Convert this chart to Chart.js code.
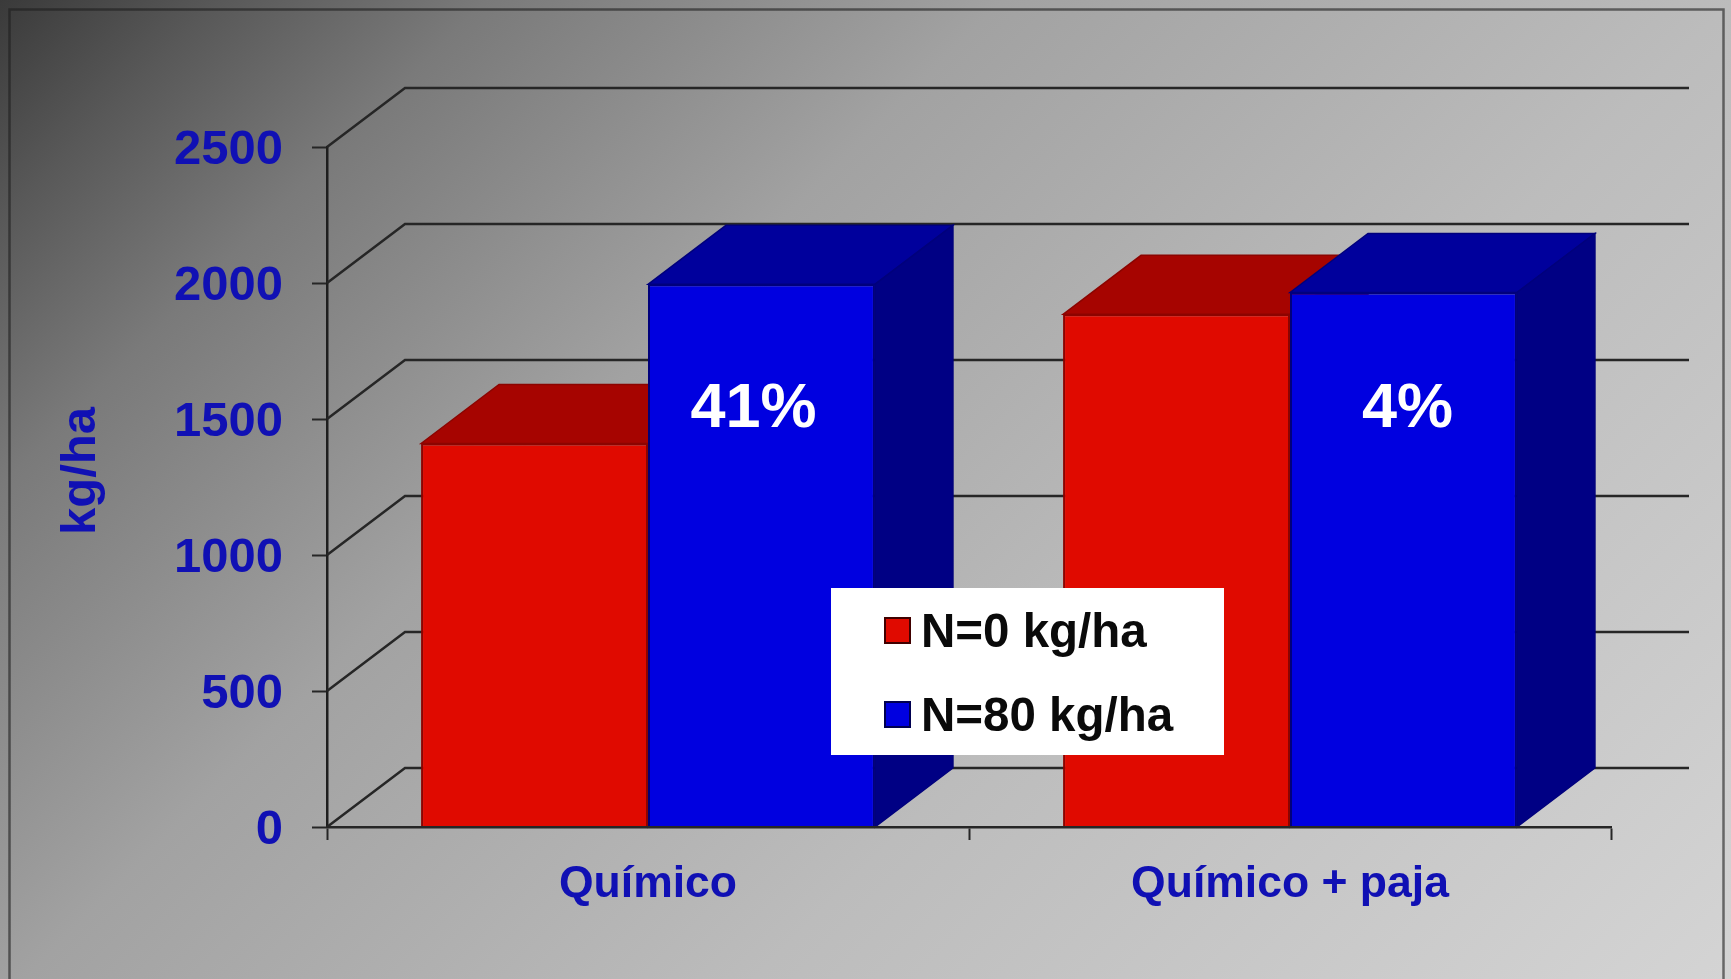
<!DOCTYPE html>
<html lang="es">
<head>
<meta charset="utf-8">
<title>kg/ha</title>
<style>
    html, body { margin: 0; padding: 0; background: #999; overflow: hidden; }
    canvas { display: block; filter: blur(0.5px); }
</style>
</head>
<body>
<canvas id="grafico" width="1731" height="979"></canvas>
<script src="https://cdn.jsdelivr.net/npm/chart.js@4/dist/chart.umd.min.js"></script>
<script>
// --- DATOS ---
const categorias = ['Químico', 'Químico + paja'];
const serieN0 = [1410, 1885];
const serieN80 = [1995, 1965];
const nombresSeries = ['N=0 kg/ha', 'N=80 kg/ha'];
const porcentajes = ['41%', '4%'];
const tituloEjeY = 'kg/ha';

// --- ESTILOS ---
const FUENTE = '"Liberation Sans", Arial, sans-serif';
const AZUL_TEXTO = '#1010b4';
const PROF_X = 78, PROF_Y = 59;
const caras = [
    { frente: '#e00a00', borde: '#8c0400', arriba: '#a60400', lado: '#8a0000' },
    { frente: '#0000e0', borde: '#00007c', arriba: '#00009c', lado: '#000084' }
];

// --- PLUGIN 3D: fondo, pared trasera, caras de las barras, leyenda ---
const plugin3d = {
    id: 'plugin3d',
    beforeDraw(chart) {
        const { ctx, width, height } = chart;
        const g = ctx.createLinearGradient(0, 0, 1355, 1355);
        g.addColorStop(0, '#3a3a3a');
        g.addColorStop(0.08, '#585858');
        g.addColorStop(0.18, '#7a7a7a');
        g.addColorStop(0.37, '#a2a2a2');
        g.addColorStop(0.64, '#bcbcbc');
        g.addColorStop(1, '#d4d4d4');
        ctx.save();
        ctx.fillStyle = g;
        ctx.fillRect(0, 0, width, height);
        ctx.strokeStyle = 'rgba(30,30,30,0.6)';
        ctx.lineWidth = 2.5;
        ctx.strokeRect(9.5, 9.5, 1714, height + 20);
        ctx.restore();
    },
    beforeDatasetsDraw(chart) {
        const { ctx, scales: { x, y } } = chart;
        ctx.save();
        // lineas de la pared trasera
        ctx.strokeStyle = '#262626';
        ctx.lineWidth = 2.5;
        y.ticks.forEach(t => {
            const py = y.getPixelForValue(t.value);
            ctx.beginPath();
            ctx.moveTo(x.left, py);
            ctx.lineTo(x.left + PROF_X, py - PROF_Y);
            ctx.lineTo(x.right + PROF_X, py - PROF_Y);
            ctx.stroke();
        });
        // caras de arriba y del lado
        categorias.forEach((_, i) => {
            chart.data.datasets.forEach((_, d) => {
                const bar = chart.getDatasetMeta(d).data[i];
                const izq = bar.x - bar.width / 2, der = bar.x + bar.width / 2;
                ctx.lineWidth = 1.5;
                ctx.strokeStyle = caras[d].borde;
                ctx.fillStyle = caras[d].arriba;
                ctx.beginPath();
                ctx.moveTo(izq, bar.y);
                ctx.lineTo(izq + PROF_X, bar.y - PROF_Y);
                ctx.lineTo(der + PROF_X, bar.y - PROF_Y);
                ctx.lineTo(der, bar.y);
                ctx.closePath();
                ctx.fill();
                ctx.stroke();
                ctx.fillStyle = caras[d].lado;
                ctx.beginPath();
                ctx.moveTo(der, bar.y);
                ctx.lineTo(der + PROF_X, bar.y - PROF_Y);
                ctx.lineTo(der + PROF_X, y.bottom - PROF_Y);
                ctx.lineTo(der, y.bottom);
                ctx.closePath();
                ctx.fill();
                ctx.stroke();
            });
        });
        ctx.restore();
    },
    afterDraw(chart) {
        const { ctx, scales: { y } } = chart;
        ctx.save();

        // porcentajes sobre las barras azules
        const ajusteX = [-8, 4];
        ctx.fillStyle = '#ffffff';
        ctx.font = 'bold 63px ' + FUENTE;
        ctx.textAlign = 'center';
        ctx.textBaseline = 'middle';
        porcentajes.forEach((txt, i) => {
            const bar = chart.getDatasetMeta(1).data[i];
            ctx.fillText(txt, bar.x + ajusteX[i], y.getPixelForValue(1535));
        });

        // titulo del eje
        ctx.save();
        ctx.translate(81, 471);
        ctx.rotate(-Math.PI / 2);
        ctx.fillStyle = AZUL_TEXTO;
        ctx.font = 'bold 49px ' + FUENTE;
        ctx.fillText(tituloEjeY, 0, 0);
        ctx.restore();

        // leyenda
        ctx.fillStyle = '#ffffff';
        ctx.fillRect(831, 588, 393, 167);
        ctx.textAlign = 'left';
        ctx.font = 'bold 47.5px ' + FUENTE;
        chart.data.datasets.forEach((ds, d) => {
            const fila = 631 + d * 84;
            ctx.fillStyle = caras[d].frente;
            ctx.strokeStyle = d === 0 ? '#400000' : '#000050';
            ctx.lineWidth = 2;
            ctx.fillRect(885, fila - 13, 25, 25);
            ctx.strokeRect(885, fila - 13, 25, 25);
            ctx.fillStyle = '#0a0a0a';
            ctx.fillText(ds.label, 921, fila + 3);
        });
        ctx.restore();
    }
};

// --- GRAFICO ---
new Chart(document.getElementById('grafico'), {
    type: 'bar',
    data: {
        labels: categorias,
        datasets: [
            { label: nombresSeries[0], data: serieN0, backgroundColor: caras[0].frente, borderColor: caras[0].borde, borderWidth: 2 },
            { label: nombresSeries[1], data: serieN80, backgroundColor: caras[1].frente, borderColor: caras[1].borde, borderWidth: 2 }
        ]
    },
    options: {
        responsive: false,
        animation: false,
        layout: { padding: { top: 147, right: 120, bottom: 0, left: 0 } },
        plugins: { legend: { display: false }, tooltip: { enabled: false } },
        datasets: { bar: { categoryPercentage: 0.707, barPercentage: 1 } },
        scales: {
            y: {
                min: 0, max: 2500,
                afterFit: s => { s.width = 327; },
                ticks: {
                    stepSize: 500, padding: 29, color: AZUL_TEXTO, labelOffset: 3,
                    callback: v => String(v),
                    font: { family: FUENTE, size: 49, weight: 'bold' }
                },
                grid: { drawOnChartArea: false, tickLength: 15, tickColor: '#262626', tickWidth: 2 },
                border: { color: '#1e1e1e', width: 2.5 }
            },
            x: {
                afterFit: s => { s.height = 152; },
                ticks: {
                    padding: 18, color: AZUL_TEXTO, maxRotation: 0,
                    font: { family: FUENTE, size: 44.5, weight: 'bold' }
                },
                grid: { drawOnChartArea: false, tickLength: 13, tickColor: '#262626', tickWidth: 2 },
                border: { color: '#262626', width: 2.5, z: 1 }
            }
        }
    },
    plugins: [plugin3d]
});
</script>
</body>
</html>
